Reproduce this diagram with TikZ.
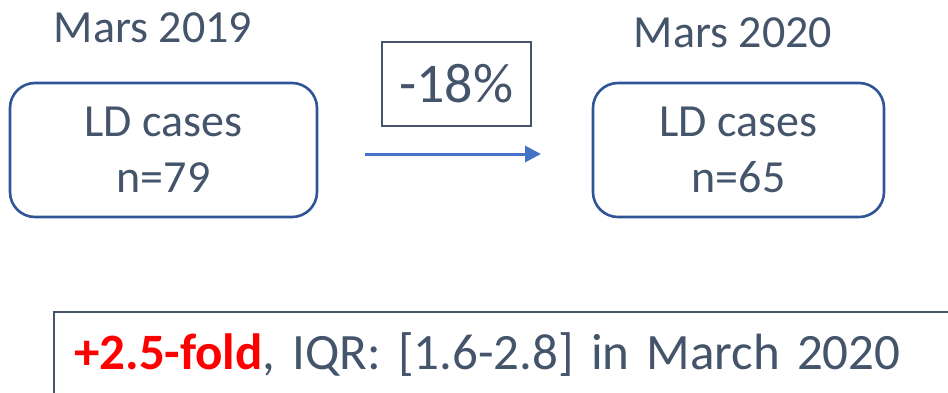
\documentclass[tikz,border=0pt]{standalone}
\usepackage{fontspec}
\setmainfont{Carlito}
\usepackage{tikz}
\usetikzlibrary{arrows.meta, positioning}

\definecolor{slate}{HTML}{44546A}
\definecolor{boxblue}{HTML}{2F5597}
\definecolor{arrowblue}{HTML}{4472C4}

\begin{document}
\begin{tikzpicture}[
  x=1pt, y=-1pt,
  >=Triangle,
  casebox/.style={
    draw=boxblue, line width=2.6pt, rectangle, rounded corners=25pt,
    minimum width=307pt, minimum height=134pt,
    align=center, text=slate, inner sep=0pt,
    font=\fontsize{46pt}{56pt}\selectfont
  },
  ratebox/.style={
    draw=slate, line width=2.4pt, rectangle,
    minimum width=149pt, minimum height=84pt,
    text=slate, inner sep=0pt,
    font=\fontsize{56pt}{66pt}\selectfont
  },
  summarybox/.style={
    draw=slate, line width=2.4pt, rectangle,
    anchor=north west, inner xsep=20.3pt, inner ysep=0pt,
    text height=57.3pt, text depth=40pt, text width=900pt,
    align=left, text=slate,
    font=\fontsize{51pt}{60pt}\selectfont
  },
  yearlabel/.style={anchor=base, text=slate, inner sep=0pt,
    font=\fontsize{46pt}{56pt}\selectfont},
  trend/.style={line width=3pt, draw=arrowblue,
    arrows={-Triangle[length=16pt, width=16pt]}}
]
\useasboundingbox (0,0) rectangle (948,392);

% --- before / after counts ---
\node[yearlabel] (year19) at (153,42) {Mars 2019};
\node[casebox] (before) at (163.5,150) {LD cases\\n=79};

\node[yearlabel] (year20) at (733,47) {Mars 2020};
\node[casebox, minimum width=291pt] (after) at (738.5,150) {LD cases\\n=65};

% --- relative change ---
\node[ratebox] (change) at (456.2,84) {-18\%};
\coordinate (trendL) at (365,154);
\coordinate (trendR) at (541,154);
\draw[trend] (trendL) -- (trendR);

% --- summary line, box runs off the page ---
\begin{scope}
\clip (0,0) rectangle (948,392);
\node[summarybox] (summary) at (52.7,310.7)
  {\textcolor{red}{\bfseries +2.5-fold}, IQR: [1.6-2.8] in March 2020};
\end{scope}

\end{tikzpicture}
\end{document}
